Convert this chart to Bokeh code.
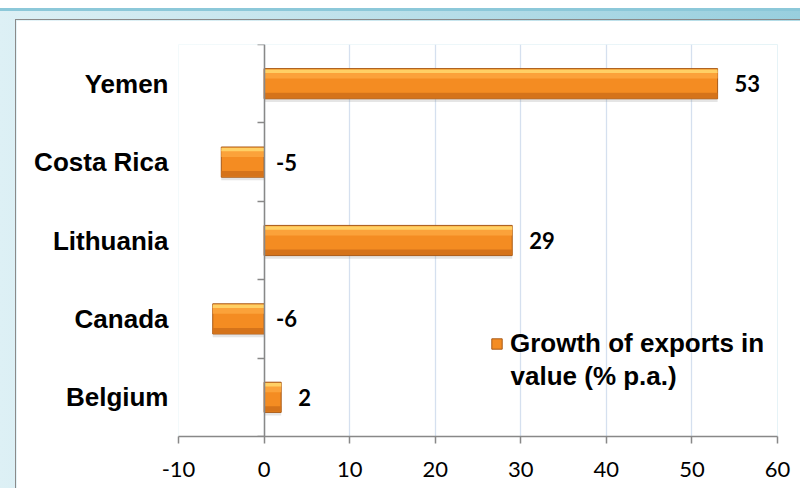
from bokeh.plotting import figure
from bokeh.models import (ColumnDataSource, Range1d, LinearAxis, FixedTicker, Legend, LegendItem, Label)
from bokeh.layouts import column
from bokeh.core.properties import value
from bokeh.embed import file_html
from bokeh.resources import INLINE

# ---- data (bottom to top) ----
countries = ["Belgium", "Canada", "Lithuania", "Costa Rica", "Yemen"]
growth = [2, -6, 29, -5, 53]
x_ticks = [-10, 0, 10, 20, 30, 40, 50, 60]
series_name = "Growth of exports in"
series_name_2 = "value (% p.a.)"

n = len(countries)
ys = [i + 0.5 for i in range(n)]
BAR_H = 0.385

src = ColumnDataSource(dict(
    y=ys,
    y_top=[y + 0.16 for y in ys],
    y_top2=[y + 0.11 for y in ys],
    y_bot=[y - 0.15 for y in ys],
    y_sh=[y - 0.04 for y in ys],
    v=growth,
    lx=[max(v, 0) for v in growth],
    lxo=[17 if v > 0 else 12 for v in growth],
    txt=[str(v) for v in growth],
))

p = figure(width=784, height=468, output_backend="svg", toolbar_location=None,
           x_range=Range1d(x_ticks[0], x_ticks[-1]), y_range=Range1d(0, n),
           min_border_left=162, min_border_right=23, min_border_top=24, min_border_bottom=52)
p.background_fill_color = "white"
p.border_fill_color = "white"
p.outline_line_color = None
p.margin = (20, 0, 0, 16)
p.styles = {"outline": "1.5px solid #8A8A8A"}

# grid
p.xgrid.ticker = FixedTicker(ticks=x_ticks)
p.xgrid.grid_line_color = "#D5E0EF"
p.xgrid.grid_line_width = 1.3
p.ygrid.grid_line_color = None

# x axis
xa = p.xaxis[0]
xa.ticker = FixedTicker(ticks=x_ticks)
xa.major_label_overrides = {t: str(t) for t in x_ticks}
xa.axis_line_color = "#888888"
xa.axis_line_width = 1.5
xa.major_tick_line_color = "#888888"
xa.major_tick_line_width = 1.5
xa.major_tick_out = 7
xa.major_tick_in = 0
xa.minor_tick_line_color = None
xa.major_label_text_font = "Lato"
xa.major_label_text_font_size = "22px"
xa.major_label_text_color = "black"
xa.major_label_text_line_height = 0.8
xa.major_label_standoff = 18

# category labels axis
ya = p.yaxis[0]
ya.ticker = FixedTicker(ticks=ys)
ya.major_label_overrides = {y: c for y, c in zip(ys, countries)}
ya.axis_line_color = None
ya.major_tick_line_color = None
ya.minor_tick_line_color = None
ya.major_label_text_font = "Liberation Sans"
ya.major_label_text_font_style = "bold"
ya.major_label_text_font_size = "26px"
ya.major_label_text_color = "black"
ya.major_label_standoff = 4

# axis at x = 0
a0 = LinearAxis(fixed_location=0, ticker=FixedTicker(ticks=list(range(n + 1))))
a0.axis_line_color = "#888888"
a0.axis_line_width = 1.5
a0.major_tick_line_color = "#888888"
a0.major_tick_line_width = 1.5
a0.major_tick_out = 7
a0.major_tick_in = 0
a0.minor_tick_line_color = None
a0.major_label_text_font_size = "0px"
a0.major_label_text_color = None
p.add_layout(a0, "left")

# bars (layered for a bevel look)
p.hbar(y="y_sh", left=0, right="v", height=BAR_H, source=src,
       fill_color="#8A8A8A", fill_alpha=0.22, line_color=None)
base = p.hbar(y="y", left=0, right="v", height=BAR_H, source=src,
              fill_color="#F48C22", line_color="#A85A18", line_width=1)
p.hbar(y="y_top2", left=0, right="v", height=0.09, source=src,
       fill_color="#FBA23A", line_color=None)
p.hbar(y="y_top", left=0, right="v", height=0.045, source=src,
       fill_color="#FFD065", line_color=None)
p.hbar(y="y_bot", left=0, right="v", height=0.07, source=src,
       fill_color="#D5731A", line_color=None)

# data labels
p.text(x="lx", y="y", text="txt", x_offset="lxo", source=src,
       text_font=value("Lato"), text_font_style="bold", text_font_size="22px",
       text_color="black", text_align="left", text_baseline="middle")

# legend
leg = Legend(items=[LegendItem(label=series_name, renderers=[base])],
             location=(312, 77), orientation="vertical",
             background_fill_alpha=0, border_line_color=None,
             padding=0, margin=0, spacing=0, label_standoff=7,
             glyph_width=13, glyph_height=13,
             label_text_font="Liberation Sans", label_text_font_style="bold",
             label_text_font_size="26px", label_text_color="black")
p.add_layout(leg)
p.add_layout(Label(x=28.8, y=0.77, text=series_name_2, text_font="Liberation Sans",
                   text_font_style="bold", text_font_size="26px", text_color="black",
                   text_baseline="alphabetic"))

layout = column(p, styles={
    "background": "linear-gradient(to bottom, #FFFFFF 0px, #FFFFFF 8px, #8CC8D9 8px, #8CC8D9 11px, "
                  "rgba(0,0,0,0) 11px), linear-gradient(to right, #DDF0F5, #98CFDE)"
})

open("out.html", "w").write(file_html(layout, INLINE))
